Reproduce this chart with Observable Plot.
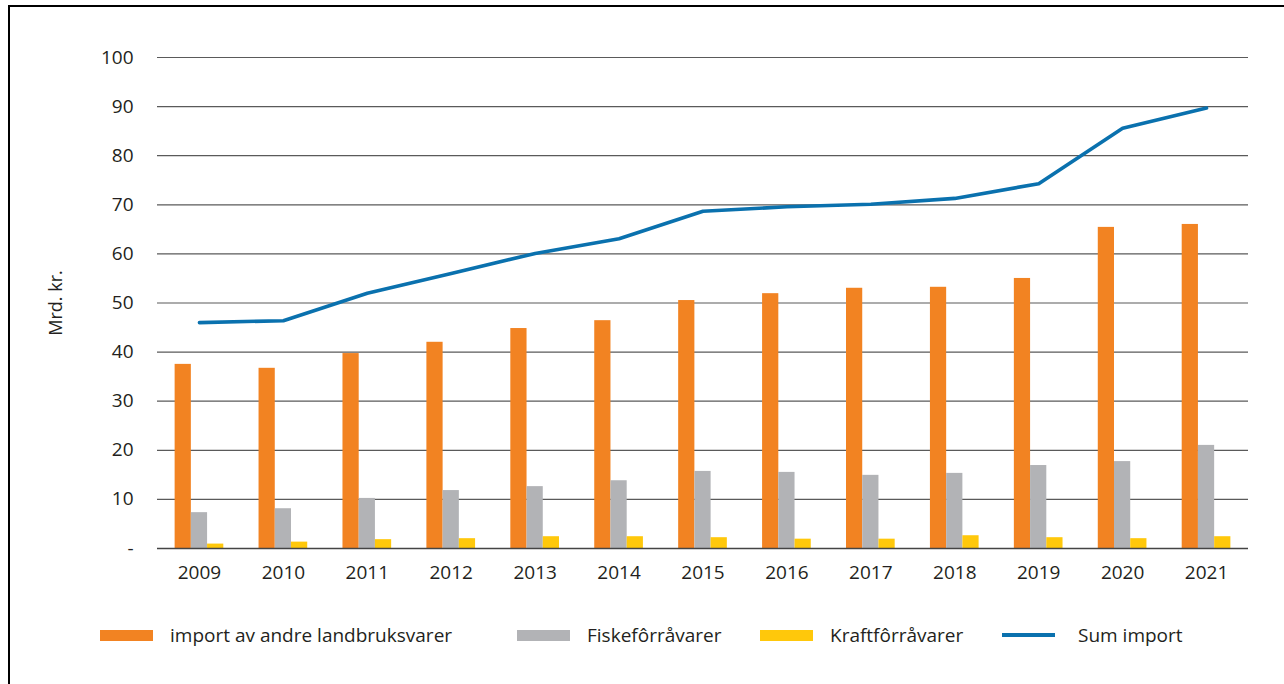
<!DOCTYPE html>
<html>
<head>
<meta charset="utf-8">
<script src="https://cdn.jsdelivr.net/npm/d3@7"></script>
<script src="https://cdn.jsdelivr.net/npm/@observablehq/plot@0.6"></script>
<style>
  html, body { margin: 0; padding: 0; background: #fff; }
  body { width: 1284px; height: 684px; position: relative; overflow: hidden; font-family: "Open Sans", sans-serif; color: #231f20; }
  #frame { position: absolute; left: 8px; top: 5px; width: 1400px; height: 800px; border-left: 2px solid #000; border-top: 2px solid #000; pointer-events: none; }
  #chart { position: absolute; left: 0; top: 0; }
  .leg { position: absolute; top: 622px; height: 26px; display: flex; align-items: center; font-size: 19px; white-space: nowrap; }
  .sw { display: inline-block; width: 53px; height: 11px; margin-right: 17px; }
  .ln { display: inline-block; width: 53px; height: 4px; margin-right: 23px; }
</style>
</head>
<body>
<div id="chart"></div>
<div id="frame"></div>
<div id="legend"></div>
<script>
// ---- data ----
const years = ["2009","2010","2011","2012","2013","2014","2015","2016","2017","2018","2019","2020","2021"];
const landbruk = [37.5, 36.7, 39.7, 42.0, 44.8, 46.4, 50.5, 51.9, 53.0, 53.2, 55.0, 65.4, 66.0];
const fisk     = [7.3, 8.1, 10.2, 11.8, 12.6, 13.8, 15.7, 15.5, 14.9, 15.3, 16.9, 17.7, 21.0];
const kraft    = [0.9, 1.3, 1.8, 2.0, 2.4, 2.4, 2.2, 1.9, 1.9, 2.6, 2.2, 2.0, 2.4];
const sumImport = [46.0, 46.4, 52.0, 56.0, 60.1, 63.1, 68.7, 69.6, 70.1, 71.3, 74.3, 85.6, 89.7];
const seriesNames = ["import av andre landbruksvarer", "Fiskefôrråvarer", "Kraftfôrråvarer", "Sum import"];
const colors = ["#f28322", "#b2b3b6", "#ffc80b", "#0a71ae"];
const yTicks = [0, 10, 20, 30, 40, 50, 60, 70, 80, 90, 100];
const yLabel = "Mrd. kr.";

// ---- layout ----
const W = 1284, H = 600;
const mL = 157, mR = 36, mT = 57, mB = 52;
const pInner = 0.42, pOuter = 0.21;
const step = (W - mL - mR) / (years.length - pInner + 2 * pOuter);
const bw = step * (1 - pInner);
const third = bw / 3;

const rows = years.map((y, i) => ({year: y, a: landbruk[i], b: fisk[i], c: kraft[i], s: sumImport[i]}));

const chart = Plot.plot({
  width: W, height: H,
  marginLeft: mL, marginRight: mR, marginTop: mT, marginBottom: mB,
  style: {fontFamily: "Open Sans, sans-serif", fontSize: "19px", color: "#231f20", background: "transparent"},
  x: {type: "band", domain: years, paddingInner: pInner, paddingOuter: pOuter, round: false, label: null},
  y: {domain: [0, 100], label: null},
  marks: [
    Plot.ruleY(yTicks.filter(d => d > 0), {stroke: "#5a5a5a", strokeWidth: 1.2}),
    Plot.barY(rows, {x: "year", y: "a", fill: colors[0], insetRight: 2 * third}),
    Plot.barY(rows, {x: "year", y: "b", fill: colors[1], insetLeft: third, insetRight: third}),
    Plot.barY(rows, {x: "year", y: "c", fill: colors[2], insetLeft: 2 * third}),
    Plot.ruleY([0], {stroke: "#444", strokeWidth: 1.4}),
    Plot.line(rows, {x: "year", y: "s", stroke: colors[3], strokeWidth: 3.6, strokeLinejoin: "round"}),
    Plot.axisY({ticks: yTicks, tickSize: 0, tickPadding: 24, tickFormat: d => d === 0 ? "-" : String(d), label: null}),
    Plot.axisX({tickSize: 0, tickPadding: 17, label: null}),
    Plot.text([yLabel], {frameAnchor: "left", textAnchor: "middle", rotate: -90, dx: -101, fontSize: 18, fill: "#231f20"})
  ]
});
document.getElementById("chart").appendChild(chart);

// ---- legend ----
const legend = document.getElementById("legend");
const legX = [100, 517, 760, 1002];
seriesNames.forEach((name, i) => {
  const item = document.createElement("div");
  item.className = "leg";
  item.style.left = legX[i] + "px";
  const sw = document.createElement("span");
  sw.className = i === 3 ? "ln" : "sw";
  sw.style.background = colors[i];
  item.appendChild(sw);
  item.appendChild(document.createTextNode(name));
  legend.appendChild(item);
});
</script>
</body>
</html>
